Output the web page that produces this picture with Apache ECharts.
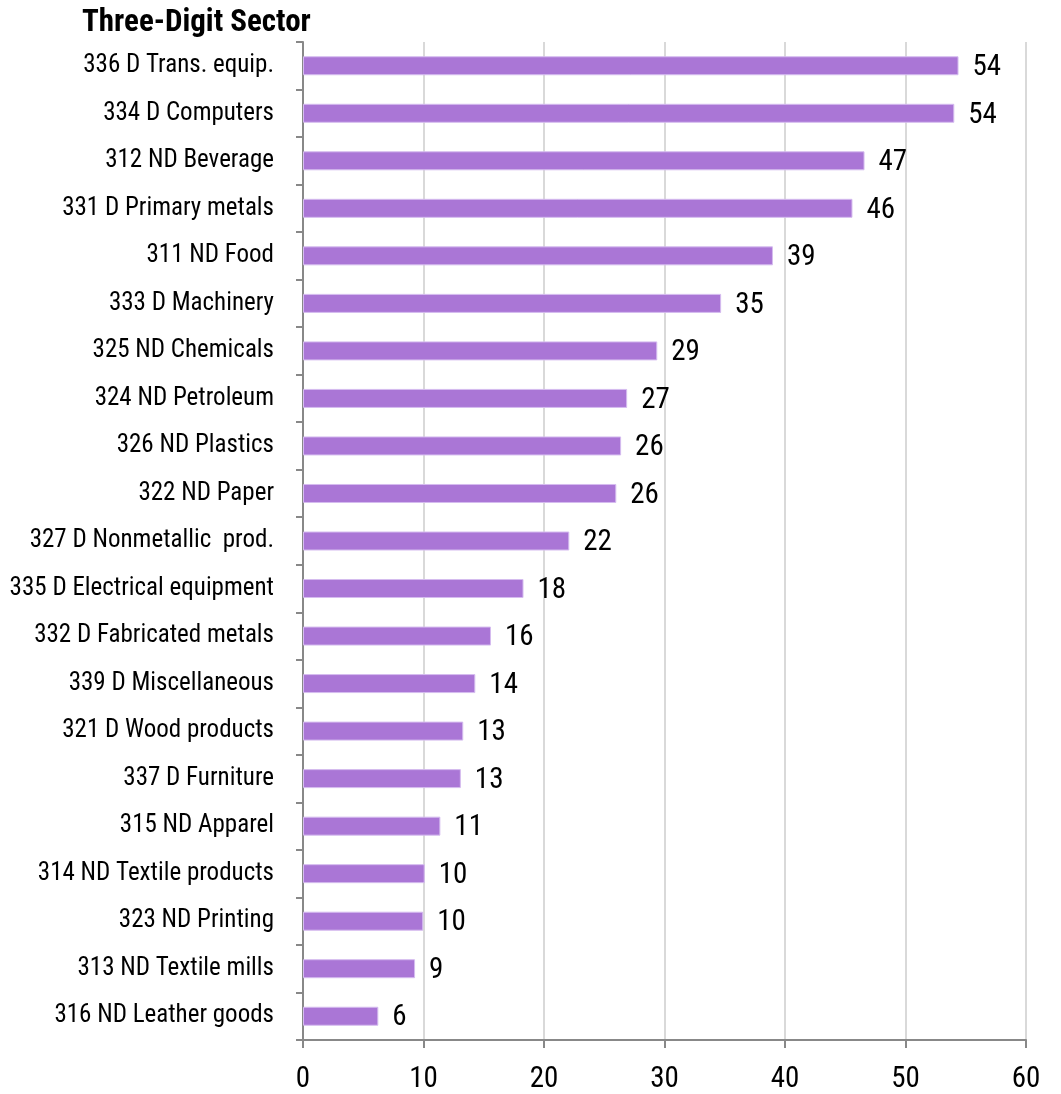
<!DOCTYPE html>
<html>
<head>
<meta charset="utf-8">
<script src="https://cdn.jsdelivr.net/npm/echarts@6/dist/echarts.min.js"></script>
<style>
html,body{margin:0;padding:0;background:#fff;}
#c{width:1061px;height:1094px;}
</style>
</head>
<body>
<div id="c"></div>
<script>
const categories = [
  "336 D Trans. equip.", "334 D Computers", "312 ND Beverage", "331 D Primary metals",
  "311 ND Food", "333 D Machinery", "325 ND Chemicals", "324 ND Petroleum",
  "326 ND Plastics", "322 ND Paper", "327 D Nonmetallic  prod.", "335 D Electrical equipment",
  "332 D Fabricated metals", "339 D Miscellaneous", "321 D Wood products", "337 D Furniture",
  "315 ND Apparel", "314 ND Textile products", "323 ND Printing", "313 ND Textile mills",
  "316 ND Leather goods"
];
const values = [54.4, 54.05, 46.6, 45.6, 39.0, 34.7, 29.4, 26.9, 26.4, 26.0, 22.1, 18.3,
  15.6, 14.3, 13.3, 13.1, 11.4, 10.1, 9.98, 9.3, 6.25];
const xTicks = [0, 10, 20, 30, 40, 50, 60];

const FONT = '"Roboto Condensed", "Liberation Sans", Arial, sans-serif';
const chart = echarts.init(document.getElementById('c'));
chart.setOption({
  animation: false,
  backgroundColor: '#fff',
  title: {
    text: 'Three-Digit Sector',
    left: 77, top: 3,
    textStyle: { fontFamily: FONT, fontWeight: 'bold', fontSize: 31, color: '#000' }
  },
  grid: { left: 303, right: 35, top: 42, bottom: 52, containLabel: false },
  xAxis: {
    type: 'value',
    min: xTicks[0], max: xTicks[xTicks.length - 1], interval: 10,
    axisLine: { show: true, lineStyle: { color: '#888', width: 2 } },
    axisTick: { show: true, length: 8, lineStyle: { color: '#888', width: 2 } },
    axisLabel: { fontFamily: FONT, fontSize: 29, color: '#000', margin: 25 },
    splitLine: { show: true, lineStyle: { color: '#d9d9d9', width: 2 } }
  },
  yAxis: {
    type: 'category',
    data: categories,
    inverse: true,
    axisLine: { show: true, lineStyle: { color: '#888', width: 2 } },
    axisTick: { show: true, length: 7, lineStyle: { color: '#888', width: 2 } },
    axisLabel: { fontFamily: FONT, fontSize: 25, color: '#000', margin: 29, padding: [3, 0, 0, 0] },
    splitLine: { show: false }
  },
  series: [{
    type: 'bar',
    data: values,
    barWidth: 19,
    itemStyle: { color: '#AA76D6', borderColor: '#D5BCEF', borderWidth: 1 },
    label: {
      show: true, position: 'right', distance: 14, offset: [0, 2],
      fontFamily: FONT, fontSize: 29, color: '#000',
      formatter: p => Math.round(p.value)
    }
  }]
});
</script>
</body>
</html>
